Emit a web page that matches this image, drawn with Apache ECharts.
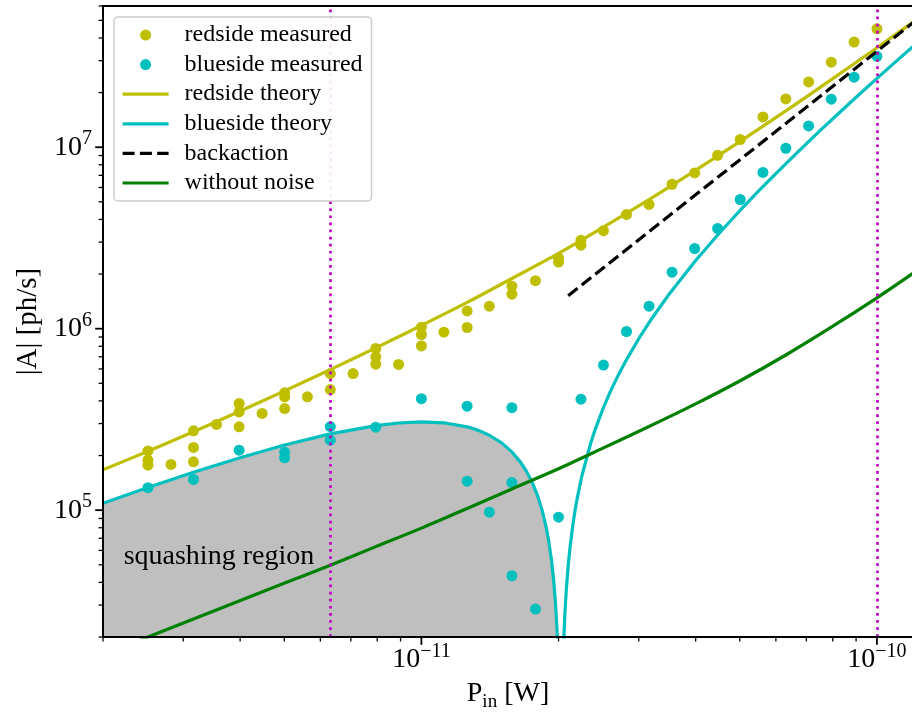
<!DOCTYPE html>
<html><head><meta charset="utf-8">
<script src="https://cdn.jsdelivr.net/npm/echarts@6/dist/echarts.min.js"></script>
<style>html,body{margin:0;padding:0;background:#fff}#c{width:912px;height:718px}</style>
</head><body><div id="c"></div>
<script>
// ---- axis ranges (x in pW) ----
const X_MIN = 2, X_MAX = 120, Y_MIN = 2e4, Y_MAX = 6e7;
const xMajorTicks = [10, 100];
const xMinorTicks = [2, 3, 4, 5, 6, 7, 8, 9, 20, 30, 40, 50, 60, 70, 80, 90];
const yMajorTicks = [1e5, 1e6, 1e7];
const yMinorTicks = [2e4, 3e4, 4e4, 5e4, 6e4, 7e4, 8e4, 9e4, 2e5, 3e5, 4e5, 5e5, 6e5, 7e5, 8e5, 9e5,
  2e6, 3e6, 4e6, 5e6, 6e6, 7e6, 8e6, 9e6, 2e7, 3e7, 4e7, 5e7, 6e7];
const vLinesP = [6.31, 100];

// ---- redside measured ----
const redP = [2.51, 2.51, 2.51, 2.82, 3.16, 3.16, 3.16, 3.55, 3.98, 3.98, 3.98, 4.47, 5.01, 5.01, 5.01, 5.62,
  6.31, 6.31, 7.08, 7.94, 7.94, 7.94, 8.91, 10, 10, 10, 11.2, 12.6, 12.6, 14.1, 15.8, 15.8, 17.8, 20, 20,
  22.4, 22.4, 25.1, 28.2, 31.6, 35.5, 39.8, 44.7, 50.1, 56.2, 63.1, 70.8, 79.4, 89.1, 100];
const redA = [2.12e5, 1.886e5, 1.77e5, 1.786e5, 2.735e5, 2.215e5, 1.846e5, 2.966e5, 3.87e5, 3.48e5, 2.877e5, 3.41e5,
  4.43e5, 4.21e5, 3.63e5, 4.21e5, 5.66e5, 4.62e5, 5.66e5, 7.78e5, 6.99e5, 6.37e5, 6.35e5, 1.019e6, 9.29e5, 8.04e5,
  9.56e5, 1.253e6, 1.015e6, 1.33e6, 1.715e6, 1.549e6, 1.839e6, 2.45e6, 2.33e6, 3.07e6, 2.884e6, 3.467e6, 4.264e6,
  4.84e6, 6.25e6, 7.22e6, 9.03e6, 1.103e7, 1.469e7, 1.845e7, 2.29e7, 2.94e7, 3.80e7, 4.49e7];

// ---- blueside measured ----
const blueP = [2.51, 3.16, 3.98, 5.01, 5.01, 6.31, 6.31, 7.94, 10, 12.6, 12.6, 14.1, 15.8, 15.8, 15.8, 17.8, 20,
  22.4, 25.1, 28.2, 31.6, 35.5, 39.8, 44.7, 50.1, 56.2, 63.1, 70.8, 79.4, 89.1, 100];
const blueA = [1.33e5, 1.476e5, 2.14e5, 2.087e5, 1.942e5, 2.884e5, 2.43e5, 2.866e5, 4.115e5, 3.74e5, 1.445e5, 9.75e4,
  3.67e5, 1.42e5, 4.35e4, 2.85e4, 9.15e4, 4.09e5, 6.30e5, 9.65e5, 1.33e6, 2.048e6, 2.766e6, 3.565e6, 5.15e6,
  7.26e6, 9.87e6, 1.31e7, 1.839e7, 2.43e7, 3.17e7];

// ---- redside theory ----
const redThP = [2, 2.51, 3.16, 3.98, 5.01, 6.31, 7.94, 10, 12.6, 15.8, 20, 25.1, 31.6, 39.8, 50.1, 63.1, 79.4, 100, 120];
const redThA = [1.669e5, 2.11e5, 2.706e5, 3.495e5, 4.544e5, 5.949e5, 7.843e5, 1.041e6, 1.395e6, 1.89e6, 2.597e6,
  3.626e6, 5.145e6, 7.403e6, 1.078e7, 1.586e7, 2.357e7, 3.535e7, 4.891e7];

// ---- blueside theory (left branch up to the dip, then right branch) ----
const blueThP = [2, 2.51, 3.16, 3.98, 5.01, 6.31, 7.94, 8.91, 10, 11.2, 12.6, 13.3, 14.1, 15.0, 15.8, 16.5, 17,
  17.5, 18, 18.4, 18.8, 19.0, 19.3, 19.5, 19.7, 19.85, 19.95, 20.1, 20.2,
  20.35, 20.5, 20.65, 20.8, 21.0, 21.2, 21.5, 21.8, 22.0, 22.5, 23.5, 24, 25, 26, 27, 28, 30, 32, 35, 40, 45,
  50, 55, 60, 67, 75, 82, 90, 100, 110, 120];
const blueThA = [1.093e5, 1.333e5, 1.617e5, 1.939e5, 2.286e5, 2.633e5, 2.924e5, 3.022e5, 3.065e5, 3.03e5, 2.879e5,
  2.76e5, 2.587e5, 2.348e5, 2.094e5, 1.84e5, 1.641e5, 1.426e5, 1.197e5, 1.003e5, 7.99e4, 6.94e4, 5.31e4, 4.19e4,
  3.05e4, 2.18e4, 1.6e4, 7.0e3, 1.0e3,
  8.2e3, 1.74e4, 2.68e4, 3.64e4, 4.94e4, 6.25e4, 8.28e4, 1.036e5, 1.177e5, 1.541e5, 2.315e5, 2.724e5, 3.588e5,
  4.511e5, 5.495e5, 6.538e5, 8.805e5, 1.131e6, 1.552e6, 2.374e6, 3.346e6, 4.468e6, 5.739e6, 7.161e6, 9.403e6,
  1.233e7, 1.52e7, 1.884e7, 2.394e7, 2.963e7, 3.592e7];
const squashEnd = 29; // number of left-branch points (up to the dip)

// ---- backaction ----
const baP = [21, 120];
const baA = [1.52e6, 4.85e7];

// ---- without noise ----
const greenP = [2.2, 2.51, 3.16, 3.98, 5.01, 6.31, 7.94, 10, 12.6, 15.8, 20, 25.1, 31.6, 39.8, 50.1, 63.1, 79.4, 100, 120];
const greenA = [1.75e4, 2.0e4, 2.51e4, 3.155e4, 3.963e4, 4.977e4, 6.295e4, 7.96e4, 1.021e5, 1.309e5, 1.69e5, 2.203e5,
  2.891e5, 3.828e5, 5.164e5, 7.161e5, 1.019e6, 1.479e6, 2.018e6];

const annot = { p: 2.22, a: 5.54e4, text: 'squashing region' };

// ---------------------------------------------------------------
const SERIF = '"Liberation Serif", "Times New Roman", serif';
const YEL = '#bfbf00', CYA = '#00bfbf', GRN = '#008000', MAG = '#bf00bf';
const pairs = (xs, ys) => xs.map((x, i) => [x, ys[i]]);
const isPow10 = v => { const l = Math.log10(v); return Math.abs(l - Math.round(l)) < 1e-6; };
const expStr = e => (e < 0 ? '\u2212' + (-e) : '' + e);

const tickRich = {
  b: { fontFamily: SERIF, fontSize: 28, color: '#000', verticalAlign: 'bottom', lineHeight: 28 },
  s: { fontFamily: SERIF, fontSize: 20, color: '#000', verticalAlign: 'bottom', lineHeight: 20, padding: [0, 0, 12, 0] }
};

function tickSeries(vals, axis, len, width) {
  return {
    type: 'custom', silent: true, clip: false, z: 10,
    data: vals.map(v => axis === 'x' ? [v, Y_MIN] : [X_MIN, v]),
    renderItem: (params, api) => {
      const p = api.coord([api.value(0), api.value(1)]);
      const shape = axis === 'x'
        ? { x1: p[0], y1: p[1], x2: p[0], y2: p[1] + len }
        : { x1: p[0], y1: p[1], x2: p[0] - len, y2: p[1] };
      return { type: 'line', shape, style: { stroke: '#000', lineWidth: width } };
    }
  };
}

const lineLegend = name => ({ name, itemStyle: { opacity: 0 } });

const chart = echarts.init(document.getElementById('c'), null, { renderer: 'canvas' });
chart.setOption({
  animation: false,
  backgroundColor: '#fff',
  textStyle: { fontFamily: SERIF },
  grid: { left: 103, right: -1, top: 6, bottom: 81, show: true, z: 10, borderColor: '#000', borderWidth: 1.8,
    backgroundColor: 'transparent', containLabel: false, outerBoundsMode: 'none' },
  legend: {
    orient: 'vertical', left: 114, top: 17, z: 20, selectedMode: false,
    data: ['redside measured', 'blueside measured', lineLegend('redside theory'), lineLegend('blueside theory'),
      lineLegend('backaction'), lineLegend('without noise')],
    itemWidth: 46, itemHeight: 11, itemGap: 5.6,
    padding: [6, 9, 6, 7],
    lineStyle: { width: 3.2 },
    backgroundColor: 'rgba(255,255,255,0.9)', borderColor: '#cccccc', borderWidth: 1.5, borderRadius: 4,
    textStyle: { fontFamily: SERIF, fontSize: 24, color: '#000', width: 178, padding: [0, 0, 0, 11] }
  },
  xAxis: {
    type: 'log', logBase: 10, min: X_MIN, max: X_MAX, z: 10,
    axisLine: { show: true, lineStyle: { color: '#000', width: 1.8 } },
    axisTick: { show: false }, splitLine: { show: false },
    axisLabel: {
      margin: 9, rich: tickRich,
      formatter: v => isPow10(v) && v > X_MIN * 1.01 && v < X_MAX * 0.99
        ? '{b|10}{s|' + expStr(Math.round(Math.log10(v)) - 12) + '}' : ''
    },
    name: '{b|P}{s|in}{b| [W]}', nameLocation: 'middle', nameGap: 43,
    nameTextStyle: { rich: {
      b: { fontFamily: SERIF, fontSize: 28, color: '#000', verticalAlign: 'bottom', padding: [0, 0, 4, 0] },
      s: { fontFamily: SERIF, fontSize: 19, color: '#000', verticalAlign: 'bottom' } } }
  },
  yAxis: {
    type: 'log', logBase: 10, min: Y_MIN, max: Y_MAX, z: 10,
    axisLine: { show: true, lineStyle: { color: '#000', width: 1.8 } },
    axisTick: { show: false }, splitLine: { show: false },
    axisLabel: {
      margin: 11, rich: tickRich,
      formatter: v => isPow10(v) && v > Y_MIN * 1.01 && v < Y_MAX * 0.99
        ? '{b|10}{s|' + expStr(Math.round(Math.log10(v))) + '}' : ''
    },
    name: '|A| [ph/s]', nameLocation: 'middle', nameGap: 57,
    nameTextStyle: { fontFamily: SERIF, fontSize: 29, color: '#000' }
  },
  series: [
    { name: 'squashing', type: 'line', z: 1, symbol: 'none', silent: true,
      data: pairs(blueThP.slice(0, squashEnd), blueThA.slice(0, squashEnd)),
      lineStyle: { width: 0, opacity: 0 },
      areaStyle: { color: '#bfbfbf', opacity: 1, origin: 'start' },
      markPoint: { silent: true, symbol: 'circle', symbolSize: 0,
        label: { show: true, position: 'right', distance: 0, fontFamily: SERIF, fontSize: 28, color: '#000',
          formatter: annot.text },
        data: [{ coord: [annot.p, annot.a] }] } },
    { name: 'redside measured', type: 'scatter', z: 2, symbol: 'circle', symbolSize: 11,
      itemStyle: { color: YEL, opacity: 1 }, data: pairs(redP, redA) },
    { name: 'blueside measured', type: 'scatter', z: 2, symbol: 'circle', symbolSize: 11,
      itemStyle: { color: CYA, opacity: 1 }, data: pairs(blueP, blueA) },
    { name: 'redside theory', type: 'line', z: 3, symbol: 'none', smooth: 0.3,
      lineStyle: { color: YEL, width: 3.2 }, itemStyle: { color: YEL }, data: pairs(redThP, redThA) },
    { name: 'blueside theory', type: 'line', z: 3, symbol: 'none',
      lineStyle: { color: CYA, width: 3.2 }, itemStyle: { color: CYA }, data: pairs(blueThP, blueThA) },
    { name: 'backaction', type: 'line', z: 3, symbol: 'none',
      lineStyle: { color: '#000', width: 3.2, type: [12, 5.3] }, itemStyle: { color: '#000' }, data: pairs(baP, baA) },
    { name: 'without noise', type: 'line', z: 3, symbol: 'none', smooth: 0.3,
      lineStyle: { color: GRN, width: 3.2 }, itemStyle: { color: GRN }, data: pairs(greenP, greenA),
      markLine: { silent: true, symbol: ['none', 'none'], z: 5, label: { show: false },
        lineStyle: { color: MAG, width: 2.7, type: [2.7, 4.4] },
        data: vLinesP.map(v => ({ xAxis: v })) } },
    tickSeries(xMajorTicks, 'x', 7.8, 1.8),
    tickSeries(xMinorTicks, 'x', 4.4, 1.3),
    tickSeries(yMajorTicks, 'y', 7.8, 1.8),
    tickSeries(yMinorTicks, 'y', 4.4, 1.3)
  ]
});
</script></body></html>
